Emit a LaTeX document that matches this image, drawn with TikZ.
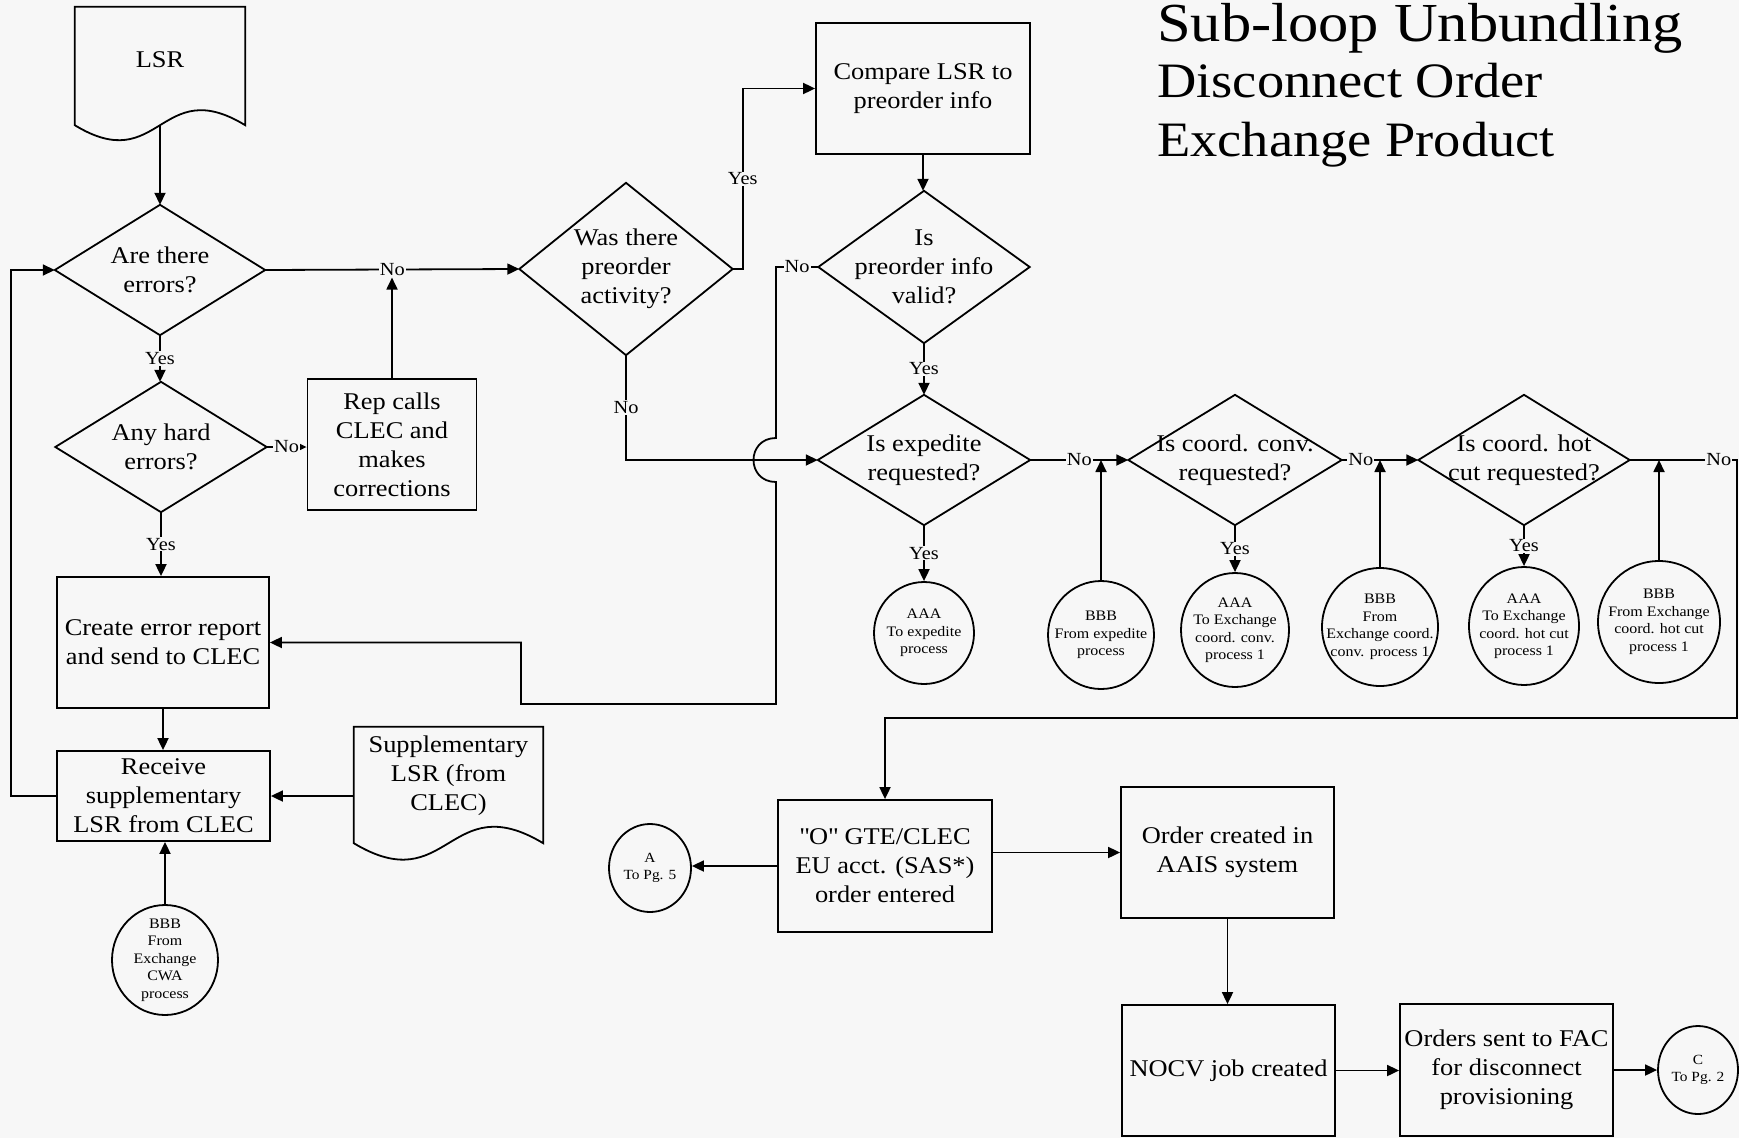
\documentclass[tikz,border=0pt]{standalone}
\usepackage{fontspec}
\setmainfont{Liberation Serif}[FakeStretch=1.1]
\usetikzlibrary{shapes.geometric,arrows.meta,calc}
\definecolor{bg}{RGB}{247,247,247}
\begin{document}
\begin{tikzpicture}[x=1pt,y=-1pt,
  line/.style={line width=1.8pt, line join=miter},
  arr/.style={line, -{Triangle[length=12pt,width=11pt]}},
  shp/.style={rectangle, inner sep=0pt, align=center, font=\fontsize{24}{29}\selectfont},
  txt/.style={inner sep=0pt, align=center, font=\fontsize{24}{29}\selectfont},
  box/.style={shp, draw, line width=1.8pt},
  circ/.style={draw, line width=1.8pt, ellipse, inner sep=0pt},
  ctxt/.style={inner sep=0pt, align=center, font=\fontsize{14.5}{17.5}\selectfont},
  lab/.style={fill=bg, inner sep=1pt, font=\fontsize{18.5}{22}\selectfont},
  ttl/.style={anchor=base west, inner sep=0pt, font=\fontsize{49.5}{58}\selectfont}]
\fill[bg] (0,0) rectangle (1739,1138);
\useasboundingbox (0,0) rectangle (1739,1138);

% title
\node[ttl, font=\fontsize{55}{60}\selectfont] (t1) at (1157,41) {Sub-loop Unbundling};
\node[ttl] (t2) at (1157,97) {Disconnect Order};
\node[ttl] (t3) at (1157,156) {Exchange Product};

% documents
\node[shp, minimum width=170pt, minimum height=118pt] (lsr) at (160,66) {};
\draw[line] (lsr.south west) -- (lsr.north west) -- (lsr.north east) -- (lsr.south east)
  .. controls ($(lsr.south)+(0,-52)$) and ($(lsr.south)+(0,52)$) .. (lsr.south west) -- cycle;
\node[txt] (lsrt) at (160,60) {LSR};

\node[shp, minimum width=189pt, minimum height=116pt] (supp) at (448.5,785) {};
\draw[line] (supp.south west) -- (supp.north west) -- (supp.north east) -- (supp.south east)
  .. controls ($(supp.south)+(0,-57)$) and ($(supp.south)+(0,57)$) .. (supp.south west) -- cycle;
\node[txt] (suppt) at (448.5,776) {Supplementary\\LSR (from\\CLEC)};

% boxes
\node[box, minimum width=214pt, minimum height=131pt] (compare) at (923,88.5) {Compare LSR to\\preorder info};
\node[box, minimum width=169pt, minimum height=131pt] (rep) at (392,444.5) {Rep calls\\CLEC and\\makes\\corrections};
\node[box, minimum width=212pt, minimum height=131pt] (create) at (163,642.5) {Create error report\\and send to CLEC};
\node[box, minimum width=213pt, minimum height=90pt] (receive) at (163.5,796) {Receive\\supplementary\\LSR from CLEC};
\node[box, minimum width=214pt, minimum height=132pt] (obox) at (885,866) {\textquotedbl O\textquotedbl{} GTE/CLEC\\EU acct. (SAS*)\\order entered};
\node[box, minimum width=213pt, minimum height=131pt] (order) at (1227.5,852.5) {Order created in\\AAIS system};
\node[box, minimum width=213pt, minimum height=131pt] (nocv) at (1228.5,1070.5) {NOCV job created};
\node[box, minimum width=213pt, minimum height=132pt] (sent) at (1506.5,1070) {Orders sent to FAC\\for disconnect\\provisioning};

% decisions
\node[shp, minimum width=210pt, minimum height=130pt] (d1) at (160,270) {Are there\\errors?};
\node[shp, minimum width=211pt, minimum height=130pt] (d2) at (161,447) {Any hard\\errors?};
\node[shp, minimum width=213pt, minimum height=172pt] (d3) at (626,269) {Was there\\preorder\\activity?};
\node[shp, minimum width=211pt, minimum height=152pt] (d4) at (924,267) {Is\\preorder info\\valid?};
\node[shp, minimum width=212pt, minimum height=130pt] (d5) at (924,460) {Is expedite\\requested?};
\node[shp, minimum width=213pt, minimum height=130pt] (d6) at (1235,460) {Is coord. conv.\\requested?};
\node[shp, minimum width=211pt, minimum height=130pt] (d7) at (1524,460) {Is coord. hot\\cut requested?};
\foreach \n in {d1,d2,d3,d4,d5,d6,d7}
  \draw[line] (\n.north) -- (\n.east) -- (\n.south) -- (\n.west) -- cycle;

% connectors (circles)
\node[circ, minimum width=100pt, minimum height=102pt] (c1) at (924,633) {};
\node[ctxt] (c1t) at (c1) {AAA\\To expedite\\process};
\node[circ, minimum width=106pt, minimum height=108pt] (c2) at (1101,635) {};
\node[ctxt] (c2t) at (c2) {BBB\\From expedite\\process};
\node[circ, minimum width=108pt, minimum height=114pt] (c3) at (1235,630) {};
\node[ctxt] (c3t) at (c3) {AAA\\To Exchange\\coord. conv.\\process 1};
\node[circ, minimum width=116pt, minimum height=118pt] (c4) at (1380,627) {};
\node[ctxt] (c4t) at (c4) {BBB\\From\\Exchange coord.\\conv. process 1};
\node[circ, minimum width=110pt, minimum height=118pt] (c5) at (1524,626) {};
\node[ctxt] (c5t) at (c5) {AAA\\To Exchange\\coord. hot cut\\process 1};
\node[circ, minimum width=122pt, minimum height=122pt] (c6) at (1659,622) {};
\node[ctxt] (c6t) at (c6) {BBB\\From Exchange\\coord. hot cut\\process 1};
\node[circ, minimum width=106pt, minimum height=110pt] (c7) at (165,960) {};
\node[ctxt] (c7t) at (c7) {BBB\\From\\Exchange\\CWA\\process};
\node[circ, minimum width=82pt, minimum height=88pt] (ca) at (650,868) {};
\node[ctxt, font=\fontsize{14}{17}\selectfont] (cat) at (ca) {A\\To Pg. 5};
\node[circ, minimum width=80pt, minimum height=88pt] (cc) at (1698,1070) {};
\node[ctxt, font=\fontsize{14}{17}\selectfont] (cct) at (cc) {C\\To Pg. 2};

% helper coordinates
\coordinate (k2) at (776,267);
\coordinate (k3) at (776,438);
\coordinate (k4) at (776,482);
\coordinate (k5) at (776,704);
\coordinate (k6) at (521,704);
\coordinate (r1) at (1737,460);
\coordinate (r2) at (1737,718);

% connectors
\draw[arr] (lsr.south) -- (lsr.south |- d1.north);
\draw[arr] (d1.east) -- node[lab] (n1) {No} (d3.west);
\draw[arr] (rep.north) -- (rep.north |- n1.south);
\draw[arr] (d1.south) -- node[lab] (y1) {Yes} (d1.south |- d2.north);
\draw[arr] (d2.east) -- node[lab] (n2) {No} (d2.east -| rep.west);
\draw[arr] (d2.south) -- node[lab] (y2) {Yes} (d2.south |- create.north);
\draw[arr] (create.south) -- (create.south |- receive.north);
\draw[arr] (receive.west) -- ++(-45,0) |- (d1.west);
\draw[arr] (supp.west |- receive.east) -- (receive.east);
\draw[arr] (c7.north) -- (c7.north |- receive.south);
\draw[arr] (d3.east) -- ++(10,0) coordinate (k1) -- node[lab] (y3) {Yes} (k1 |- compare.west) -- (compare.west);
\draw[arr] (compare.south) -- (compare.south |- d4.north);
\draw[arr] (d4.west) -- node[lab] (n4) {No} (k2) -- (k3)
  .. controls ($(k3)+(-30,0)$) and ($(k4)+(-30,0)$) .. (k4) -- (k5) -- (k6) -- (k6 |- create.east) -- (create.east);
\draw[arr] (d3.south) -- node[lab] (n3) {No} (d3.south |- d5.west) -- (d5.west);
\draw[arr] (d4.south) -- node[lab] (y4) {Yes} (d4.south |- d5.north);
\draw[arr] (d5.east) -- node[lab] (n5) {No} (d6.west);
\draw[arr] (c2.north) -- (c2.north |- d5.east);
\draw[arr] (d5.south) -- node[lab] (y5) {Yes} (d5.south |- c1.north);
\draw[arr] (d6.east) -- node[lab, pos=0.25] (n6) {No} (d7.west);
\draw[arr] (c4.north) -- (c4.north |- d6.east);
\draw[arr] (d6.south) -- node[lab] (y6) {Yes} (d6.south |- c3.north);
\draw[arr] (d7.south) -- node[lab] (y7) {Yes} (d7.south |- c5.north);
\draw[arr] (c6.north) -- (c6.north |- d7.east);
\draw[arr] (d7.east) -- node[lab, pos=0.83] (n7) {No} (r1) -- (r2) -- (r2 -| obox.north) -- (obox.north);
\draw[arr] (obox.west) -- (obox.west -| ca.east);
\draw[arr] (order.west -| obox.east) -- (order.west);
\draw[arr] (order.south) -- (order.south |- nocv.north);
\draw[arr] (nocv.east) -- (nocv.east -| sent.west);
\draw[arr] (sent.east) -- (sent.east -| cc.west);
\end{tikzpicture}
\end{document}
